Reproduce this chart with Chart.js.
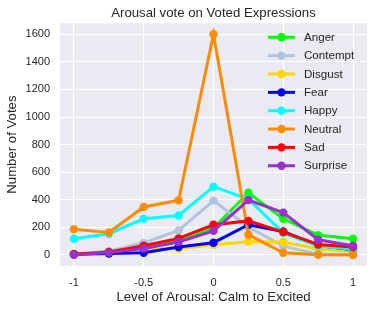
<!DOCTYPE html>
<html>
<head>
<meta charset="utf-8">
<script src="https://cdn.jsdelivr.net/npm/chart.js@4"></script>
<style>
html,body{margin:0;padding:0;background:#fff;}
#wrap{width:373px;height:311px;}
</style>
</head>
<body>
<div id="wrap"><canvas id="c" width="373" height="311"></canvas></div>
<script>
const arousalLevels = [-1, -0.75, -0.5, -0.25, 0, 0.25, 0.5, 0.75, 1];
const xTickValues = [-1, -0.5, 0, 0.5, 1];
const yTickValues = [0, 200, 400, 600, 800, 1000, 1200, 1400, 1600];
const seriesNames = ["Anger", "Contempt", "Disgust", "Fear", "Happy", "Neutral", "Sad", "Surprise"];
const anger    = [5, 20, 60, 98, 195, 452, 262, 144, 118];
const contempt = [3, 28, 88, 178, 394, 203, 64, 5, 5];
const disgust  = [10, 22, 40, 45, 74, 96, 94, 43, 26];
const fear     = [5, 10, 16, 57, 89, 219, 170, 68, 38];
const happy    = [118, 154, 262, 286, 495, 405, 160, 64, 42];
const neutral  = [187, 163, 348, 396, 1600, 147, 16, 2, 0];
const sad      = [5, 22, 67, 120, 219, 247, 166, 76, 58];
const surprise = [2, 17, 46, 94, 175, 398, 307, 110, 67];
const seriesColors = ["#00FF00", "#B0C4DE", "#FFD700", "#0000FF", "#00FFFF", "#FF8C00", "#FF0000", "#9932CC"];

const allSeries = [anger, contempt, disgust, fear, happy, neutral, sad, surprise];
const FONT = "'Liberation Sans', Arial, sans-serif";
const TXT = "#262626";

const datasets = allSeries.map((vals, i) => ({
  label: seriesNames[i],
  data: vals.map((v, j) => ({x: arousalLevels[j], y: v})),
  borderColor: seriesColors[i],
  backgroundColor: seriesColors[i],
  pointBackgroundColor: seriesColors[i],
  pointBorderWidth: 0,
  pointRadius: 4.2,
  borderWidth: 3,
  tension: 0,
  order: allSeries.length - 1 - i
}));

const bgPlugin = {
  id: 'bg',
  beforeDraw(chart) {
    const a = chart.chartArea, ctx = chart.ctx;
    ctx.save();
    ctx.fillStyle = '#EAEAF2';
    ctx.fillRect(a.left, a.top, a.right - a.left, a.bottom - a.top);
    ctx.restore();
  }
};

const legendPlugin = {
  id: 'innerLegend',
  afterDatasetsDraw(chart) {
    const ctx = chart.ctx;
    ctx.save();
    const x0 = 268, x1 = 295, tx = 304, y0 = 37.3, dy = 18.35;
    ctx.font = "11.6px " + FONT;
    ctx.textBaseline = 'middle';
    ctx.textAlign = 'left';
    seriesNames.forEach((name, i) => {
      const y = y0 + i * dy;
      ctx.strokeStyle = seriesColors[i];
      ctx.lineWidth = 3;
      ctx.beginPath(); ctx.moveTo(x0, y); ctx.lineTo(x1, y); ctx.stroke();
      ctx.fillStyle = seriesColors[i];
      ctx.beginPath(); ctx.arc((x0 + x1) / 2, y, 4.2, 0, Math.PI * 2); ctx.fill();
      ctx.fillStyle = TXT;
      ctx.fillText(name, tx, y + 0.5);
    });
    ctx.restore();
  }
};

new Chart(document.getElementById('c'), {
  type: 'line',
  data: { datasets },
  plugins: [bgPlugin, legendPlugin],
  options: {
    responsive: false,
    animation: false,
    layout: { padding: { left: 0, right: 6, top: 0, bottom: 0 } },
    plugins: {
      legend: { display: false },
      tooltip: { enabled: false },
      title: {
        display: true,
        text: 'Arousal vote on Voted Expressions',
        fullSize: false,
        color: TXT,
        font: { family: FONT, size: 13.2, weight: 'normal' },
        padding: { top: 5, bottom: 2.4 }
      }
    },
    scales: {
      x: {
        type: 'linear',
        min: -1.1, max: 1.1,
        afterBuildTicks: s => { s.ticks = xTickValues.map(v => ({value: v})); },
        afterFit: s => { s.height = 45; },
        grid: { color: '#FFFFFF', lineWidth: 1, drawTicks: false },
        border: { display: false },
        ticks: {
          color: TXT, font: { family: FONT, size: 11 }, padding: 10,
          maxRotation: 0,
          callback: v => String(v)
        },
        title: {
          display: true, text: 'Level of Arousal: Calm to Excited', color: TXT,
          font: { family: FONT, size: 13.2 }, padding: { top: 0, bottom: 6 }
        }
      },
      y: {
        type: 'linear',
        min: -80, max: 1680,
        afterBuildTicks: s => { s.ticks = yTickValues.map(v => ({value: v})); },
        afterFit: s => { s.width = 60; },
        grid: { color: '#FFFFFF', lineWidth: 1, drawTicks: false },
        border: { display: false },
        ticks: {
          color: TXT, font: { family: FONT, size: 11 }, padding: 10,
          callback: v => String(v)
        },
        title: {
          display: true, text: 'Number of Votes', color: TXT,
          font: { family: FONT, size: 13.2 }, padding: { top: 4, bottom: 0 }
        }
      }
    }
  }
});
</script>
</body>
</html>
